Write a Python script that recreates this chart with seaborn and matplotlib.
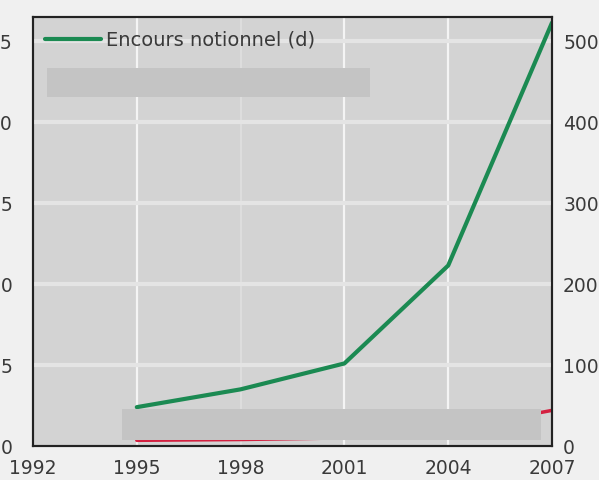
import matplotlib
matplotlib.use("Agg")
import matplotlib.pyplot as plt
import seaborn as sns
import pandas as pd
from matplotlib.patches import Rectangle

years = [1995, 1998, 2001, 2004, 2007]
encours = [48, 70, 102, 223, 523]          # right axis
autre = [0.35, 0.4, 0.5, 1.0, 2.2]           # left axis (mostly hidden)
left_ticks = [0, 5, 10, 15, 20, 25]
right_ticks = [0, 100, 200, 300, 400, 500]
x_ticks = [1992, 1995, 1998, 2001, 2004, 2007]
legend_label = "Encours notionnel (d)"

sns.set_theme(style="white")
plt.rcParams['font.family'] = ['DejaVu Sans']

df = pd.DataFrame({"year": years, "encours": encours, "autre": autre})

fig = plt.figure(figsize=(5.99, 4.80), dpi=100)
fig.patch.set_facecolor("#f0f0f0")
ax = fig.add_axes([33/599, 34/480, 519/599, 429/480])
ax.set_facecolor("#d3d3d3")
ax2 = ax.twinx()

sns.lineplot(data=df, x="year", y="autre", ax=ax, color="#d42040", linewidth=2.5, legend=False)
sns.lineplot(data=df, x="year", y="encours", ax=ax2, color="#1b8a52", linewidth=3, label=legend_label)

ax.set_xlim(1992, 2007)
ax.set_ylim(0, 26.5)
ax2.set_ylim(0, 530)
ax.set_xticks(x_ticks)
ax.set_yticks(left_ticks)
ax2.set_yticks(right_ticks)
for a in (ax, ax2):
    a.set_xlabel("")
    a.set_ylabel("")

fs = 13.5
ax.tick_params(axis="x", length=0, pad=9, labelsize=fs, colors="#3a3a3a")
ax.tick_params(axis="y", length=0, pad=14.5, labelsize=fs, colors="#3a3a3a")
ax2.tick_params(axis="y", length=0, pad=8, labelsize=fs, colors="#3a3a3a")

# grid
ax.set_axisbelow(True)
for xv in [1995, 2001, 2004]:
    ax.axvline(xv, color="#f4f4f4", linewidth=1.6, zorder=0)
ax.axvline(1998, color="#e0e0e0", linewidth=1.2, zorder=0)
for yv in right_ticks[1:]:
    ax2.axhline(yv, color="#e4e4e4", linewidth=3, zorder=0)
ax2.patch.set_visible(False)

for a in (ax, ax2):
    for s in a.spines.values():
        s.set_color("#222222")
        s.set_linewidth(1.5)

leg = ax2.legend(loc="upper left", bbox_to_anchor=(0.009, 0.986), frameon=False,
                 handlelength=2.85, handletextpad=0.25, fontsize=14,
                 borderaxespad=0.0, borderpad=0.4)
for t in leg.get_texts():
    t.set_color("#3a3a3a")

# grey masking boxes (present in reference image)
fig.patches.append(Rectangle((47/599, (480-97)/480), 323/599, 29/480,
                             transform=fig.transFigure, facecolor="#c4c4c4",
                             edgecolor="none", zorder=10))
fig.patches.append(Rectangle((122/599, (480-440)/480), 419/599, 31/480,
                             transform=fig.transFigure, facecolor="#c4c4c4",
                             edgecolor="none", zorder=10))

fig.savefig("out.png", dpi=100, facecolor=fig.get_facecolor())
